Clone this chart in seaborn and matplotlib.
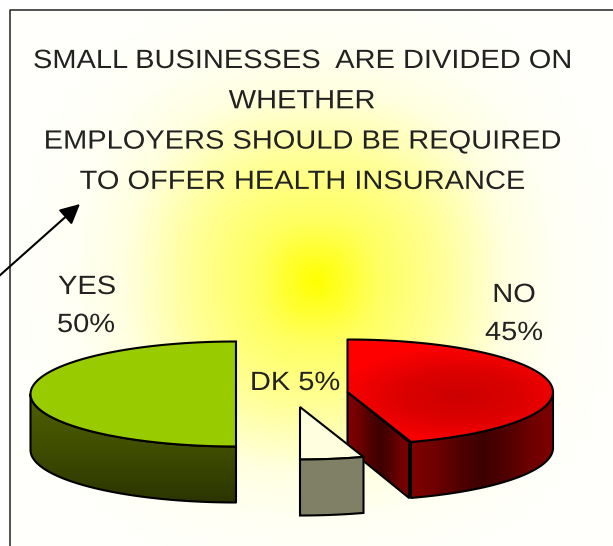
import numpy as np
import matplotlib
matplotlib.use('Agg')
import matplotlib.pyplot as plt
import matplotlib.patheffects as pe
from matplotlib.patches import Polygon
from matplotlib.transforms import Affine2D
from matplotlib.colors import LinearSegmentedColormap
import seaborn as sns

title_lines = ['SMALL BUSINESSES  ARE DIVIDED ON', 'WHETHER',
               'EMPLOYERS SHOULD BE REQUIRED', 'TO OFFER HEALTH INSURANCE']
slices = ['YES', 'DK', 'NO']
shares = [50, 5, 45]

sns.set_theme(style='white')
plt.rcParams['font.family'] = ['Liberation Sans']

W, H = 613, 546
RX, RY, DEPTH = 205.5, 52.5, 56
# where each exploded slice has its centre, in pixels
centres = {'YES': (236, 394), 'DK': (300, 407), 'NO': (347.5, 392)}

fig = plt.figure(figsize=(W / 100, H / 100), dpi=100)
ax = fig.add_axes([0, 0, 1, 1])

# slices run counter clockwise from the top, angles come from the shares
starts = 90 + 360 * np.cumsum([0] + shares[:-1]) / 100
ends = starts + 360 * np.array(shares) / 100
angles = {s: (a, b) for s, a, b in zip(slices, starts, ends)}


class Widen(pe.AbstractPathEffect):
    # the reference type is a stretched Arial
    def __init__(self, x0, sx):
        super().__init__()
        self.x0, self.sx = x0, sx

    def draw_path(self, renderer, gc, tpath, affine, rgbFace=None):
        t = affine + Affine2D().translate(-self.x0, 0).scale(self.sx, 1).translate(self.x0, 0)
        renderer.draw_path(gc, tpath, t, rgbFace)


def label(x, y, s):
    ax.text(x, y, s, ha='center', va='center', fontsize=19, color='#222222', zorder=6,
            path_effects=[Widen(x, 1.1)])


def rim(name, a, b, drop=0.0):
    t = np.radians(np.linspace(a, b, 120))
    cx, cy = centres[name]
    return np.column_stack([cx + RX * np.cos(t), cy - RY * np.sin(t) + drop])


def top_shape(name):
    a, b = angles[name]
    return np.vstack([centres[name], rim(name, a, b)])


def front_shape(name):
    # outer wall: only the part of the rim that faces the viewer
    a, b = angles[name]
    lo, hi = max(a, 180), min(b, 360)
    return np.vstack([rim(name, lo, hi), rim(name, hi, lo, DEPTH)])


def filled(shape, img, extent, cmap, z):
    poly = Polygon(shape, closed=True, fc='none', ec='black', lw=1.5, zorder=z + 0.1, joinstyle='round')
    ax.add_patch(poly)
    im = ax.imshow(img, extent=extent, cmap=cmap, vmin=0, vmax=1, aspect='auto',
                   interpolation='bilinear', zorder=z)
    im.set_clip_path(poly)


# background glow, stops are read at pixel distances from the centre
stops = [0, 30, 60, 125, 190, 240, 300]
stop_colours = ['#ffff00', '#ffff30', '#ffff60', '#ffff99', '#ffffe0', '#fffff4', '#fffffc']
bg_cmap = LinearSegmentedColormap.from_list('glow', [(s / stops[-1], c) for s, c in zip(stops, stop_colours)])
xx, yy = np.meshgrid(np.arange(10, W), np.arange(10, H))
r = (np.abs(xx - 316) ** 2.4 + np.abs(yy - 281) ** 2.4) ** (1 / 2.4) / stops[-1]
ax.imshow(np.clip(r, 0, 1), extent=(10, W, H, 10), cmap=bg_cmap, vmin=0, vmax=1, aspect='auto', zorder=0)

# YES
ax.add_patch(Polygon(top_shape('YES'), closed=True, fc='#99cc00', ec='black', lw=1.5, zorder=3))
side = sns.blend_palette(['#4f6000', '#3f4d00', '#2a3300'], as_cmap=True)
filled(front_shape('YES'), np.linspace(0, 1, 100)[:, None], (20, 240, 505, 395), side, 2)

# NO
cx, cy = centres['NO']
a, b = angles['NO']
wall = sns.blend_palette(['#800000', '#700000', '#520000', '#3d0000', '#520000', '#700000', '#800000'], as_cmap=True)
p0 = rim('NO', a, a)[0]
face = np.array([[cx, cy], p0 - [2, 0], p0 + [-2, DEPTH], [cx, cy + DEPTH]])
filled(face, np.linspace(0, 1, 100)[None, :], (cx, p0[0], cy + DEPTH + 60, cy), wall, 2)
filled(front_shape('NO'), np.linspace(0, 1, 200)[None, :], (p0[0] - 2, 558, 510, 380), wall, 2)
top_red = sns.blend_palette(['#cc0000', '#dd0000', '#ff0000'], as_cmap=True)
gx, gy = np.meshgrid(np.arange(340, 560), np.arange(335, 445))
glow = np.clip(np.hypot((gx - 460) / 125, (gy - 395) / 50), 0, 1)
filled(top_shape('NO'), glow, (340, 560, 445, 335), top_red, 3)

# DK sits in front of NO
ax.add_patch(Polygon(top_shape('DK'), closed=True, fc='#ffffe0', ec='black', lw=1.5, zorder=5))
ax.add_patch(Polygon(front_shape('DK'), closed=True, fc='#808066', ec='black', lw=1.5, zorder=5))

# titles
for i, line in enumerate(title_lines):
    label(302, 61 + i * 40.3, line)

# slice labels
share = dict(zip(slices, shares))
label(87, 287, slices[0])
label(86, 325, f"{share['YES']}%")
label(514, 295, slices[2])
label(514, 333, f"{share['NO']}%")
label(295, 383, f"{slices[1]} {share['DK']}%")

# frame and arrow
ax.plot([10, 10, W], [H, 10, 10], color='#222222', lw=1.1, zorder=7)
ax.annotate('', xy=(80, 204), xytext=(-2, 277), zorder=7,
            arrowprops=dict(arrowstyle='-|>,head_length=1.0,head_width=0.5', color='black', lw=1.5,
                            shrinkA=0, shrinkB=0))

ax.set_xlim(0, W)
ax.set_ylim(H, 0)
ax.axis('off')
fig.savefig('out.png', dpi=100, facecolor='white')
